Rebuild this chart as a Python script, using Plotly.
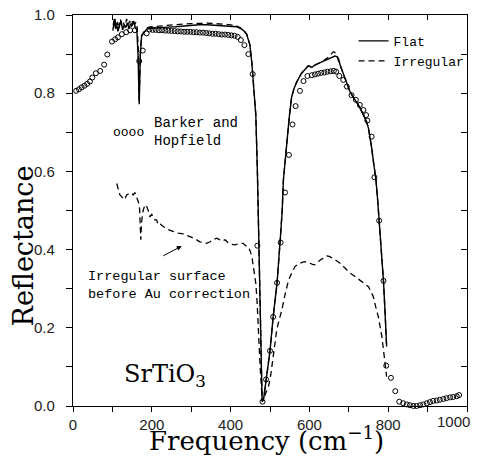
import plotly.graph_objects as go

# ---- data ----
flat_x = [101, 105, 108, 111, 114, 118, 122, 126, 130, 134, 138, 142, 146, 150, 154, 158, 162, 165, 168, 171, 174, 180, 187,
          200, 220, 240, 260, 280, 300, 320, 340, 360, 380, 400, 415, 424, 433, 441, 449, 454, 459, 464, 468, 471, 474, 477,
          480, 484, 490, 500, 508, 518, 527, 531, 534, 538, 542, 549, 555, 561, 568, 580, 590, 597, 606, 614, 623, 632, 640,
          650, 657, 665, 671, 675, 678, 684, 690, 697, 703, 710, 716, 724, 733, 740, 745, 750, 754, 758, 762, 766, 769, 773,
          777, 782, 788, 792, 796]
flat_y = [0.960, 0.985, 0.965, 0.975, 0.958, 0.972, 0.985, 0.962, 0.975, 0.968, 0.980, 0.965, 0.978, 0.972, 0.985, 0.968,
          0.962, 0.900, 0.772, 0.900, 0.945, 0.955, 0.964,
          0.966, 0.968, 0.969, 0.970, 0.972, 0.974, 0.975, 0.975, 0.974, 0.973, 0.972, 0.970, 0.966, 0.960, 0.950, 0.923,
          0.876, 0.810, 0.744, 0.600, 0.450, 0.300, 0.120,
          0.012, 0.020, 0.068, 0.141, 0.228, 0.315, 0.440, 0.500, 0.578, 0.625, 0.655, 0.740, 0.791, 0.812, 0.829, 0.851,
          0.862, 0.870, 0.866, 0.872, 0.876, 0.880, 0.885, 0.889, 0.892, 0.895, 0.893, 0.885, 0.872, 0.855, 0.838, 0.820,
          0.804, 0.792, 0.783, 0.770, 0.753, 0.740, 0.727, 0.710, 0.689, 0.660, 0.629, 0.600, 0.578, 0.530, 0.476, 0.400,
          0.320, 0.240, 0.152]

irr_x = [102, 106, 109, 113, 116, 120, 124, 128, 132, 136, 140, 144, 148, 152, 156, 160, 163, 166, 168, 171, 174, 180, 187,
         200, 220, 240, 260, 280, 300, 320, 340, 360, 380, 400, 415, 424, 433, 441, 449, 454, 459, 464, 468, 471, 474, 477,
         480, 484, 490, 500, 508, 518, 527, 531, 534, 538, 542, 549, 555, 561, 568, 580, 590, 597, 606, 614, 623, 631, 644,
         652, 657, 661, 665, 669, 673, 678, 684, 690, 697, 703, 710, 716, 724, 733, 740, 745, 750, 754, 758, 762, 766, 769,
         773, 777, 782, 788, 792, 796]
irr_y = [0.975, 0.995, 0.970, 0.982, 0.965, 0.990, 0.972, 0.980, 0.968, 0.990, 0.975, 0.985, 0.970, 0.988, 0.975, 0.982,
         0.968, 0.905, 0.780, 0.905, 0.948, 0.958, 0.967,
         0.970, 0.972, 0.974, 0.975, 0.977, 0.978, 0.979, 0.979, 0.978, 0.977, 0.975, 0.972, 0.968, 0.961, 0.951, 0.924,
         0.877, 0.810, 0.744, 0.600, 0.450, 0.300, 0.120,
         0.012, 0.020, 0.068, 0.141, 0.228, 0.315, 0.440, 0.500, 0.578, 0.625, 0.655, 0.740, 0.791, 0.812, 0.829, 0.851,
         0.862, 0.870, 0.868, 0.872, 0.878, 0.880, 0.889, 0.895, 0.902, 0.906, 0.904, 0.898, 0.885, 0.872, 0.855, 0.838,
         0.820, 0.804, 0.792, 0.783, 0.770, 0.753, 0.740, 0.727, 0.710, 0.689, 0.660, 0.629, 0.600, 0.578, 0.530, 0.476,
         0.400, 0.320, 0.240, 0.152]

raw_x = [111, 115, 119, 124, 128, 132, 136, 140, 145, 149, 153, 157, 162, 166, 169, 171, 172, 174, 178, 183, 187, 191, 195,
         200, 204, 208, 212, 217, 222, 229, 240, 255, 267, 280, 289, 300, 314, 322, 330, 339, 348, 357, 365, 372, 379, 386,
         393, 400, 411, 420, 432, 438, 445, 450, 454, 459, 464, 467, 470, 473, 475, 478, 481, 488, 496, 502, 507, 512, 517,
         523, 530, 536, 542, 546, 551, 557, 563, 570, 576, 583, 589, 595, 602, 608, 614, 620, 627, 636, 645, 652, 660, 668,
         678, 690, 703, 716, 728, 740, 750, 756, 762, 768, 775, 780, 784, 789, 793, 796]
raw_y = [0.569, 0.557, 0.540, 0.535, 0.528, 0.530, 0.540, 0.542, 0.545, 0.544, 0.540, 0.546, 0.530, 0.522, 0.505, 0.450,
         0.425, 0.470, 0.500, 0.515, 0.510, 0.500, 0.484, 0.490, 0.480, 0.476, 0.476, 0.462, 0.465, 0.459, 0.452, 0.446,
         0.442, 0.440, 0.437, 0.432, 0.425, 0.420, 0.418, 0.416, 0.420, 0.426, 0.429, 0.425, 0.422, 0.425, 0.418, 0.414,
         0.412, 0.415, 0.416, 0.410, 0.407, 0.395, 0.382, 0.348, 0.314, 0.270, 0.194, 0.140, 0.100, 0.050, 0.011, 0.030,
         0.049, 0.080, 0.118, 0.155, 0.194, 0.220, 0.245, 0.275, 0.305, 0.318, 0.331, 0.345, 0.356, 0.362, 0.365, 0.368,
         0.369, 0.368, 0.365, 0.362, 0.361, 0.366, 0.373, 0.379, 0.384, 0.382, 0.378, 0.372, 0.365, 0.352, 0.340, 0.331,
         0.322, 0.313, 0.305, 0.293, 0.280, 0.255, 0.228, 0.200, 0.177, 0.135, 0.100, 0.075]

bh_x = [8, 15, 22, 29, 36, 43, 49, 58, 69, 79, 87, 99, 107, 114, 124, 135, 145, 157, 168, 177, 187, 194,
        202, 210, 218, 226, 234, 242, 250, 258, 266, 274, 282, 290, 298, 306, 314, 322, 330, 338, 346, 354, 362, 370,
        378, 386, 394, 402, 410, 418, 426, 435, 445, 456, 468, 481, 490, 500, 508, 518, 527, 538, 548, 557, 565, 576,
        585, 595, 606, 614, 622, 630, 638, 646, 654, 662, 668, 676, 686, 695, 707, 718, 728, 737, 744, 747, 758, 765,
        777, 788, 795, 807, 818, 828, 838, 847, 855, 864, 872, 881, 889, 898, 906, 914, 923, 931, 940, 948, 957, 965,
        974, 980]
bh_y = [0.806, 0.810, 0.815, 0.819, 0.824, 0.830, 0.840, 0.851, 0.857, 0.873, 0.899, 0.932, 0.938, 0.943, 0.951, 0.956,
        0.961, 0.961, 0.882, 0.909, 0.953, 0.963,
        0.962, 0.962, 0.961, 0.961, 0.960, 0.960, 0.959, 0.959, 0.958, 0.958, 0.957, 0.957, 0.957, 0.956, 0.956, 0.955,
        0.955, 0.954, 0.953, 0.952, 0.952, 0.951, 0.950, 0.950, 0.949, 0.948, 0.947, 0.944, 0.936, 0.923, 0.900, 0.849,
        0.410, 0.011, 0.068, 0.141, 0.228, 0.315, 0.418, 0.546, 0.642, 0.720, 0.767, 0.806, 0.831, 0.844, 0.846, 0.848,
        0.850, 0.852, 0.853, 0.855, 0.856, 0.857, 0.855, 0.844, 0.834, 0.817, 0.795, 0.783, 0.770, 0.757, 0.744, 0.730,
        0.689, 0.585, 0.474, 0.320, 0.103, 0.072, 0.038, 0.011, 0.007, 0.004, 0.002, 0.000, 0.000, 0.002, 0.004, 0.007,
        0.010, 0.013, 0.014, 0.016, 0.018, 0.020, 0.022, 0.023, 0.025, 0.028]

x_ticks = [0, 200, 400, 600, 800, 1000]
x_ticktext = ["0", "200", "400", "600", "800", ""]   # last label drawn separately so it stays inside the page
x_last_label = "1000"
y_ticks = [0.0, 0.2, 0.4, 0.6, 0.8, 1.0]
y_ticktext = ["0.0", "0.2", "0.4", "0.6", "0.8", "1.0"]

MONO = "Liberation Mono"
SERIF = "DejaVu Serif"
SANS = "Liberation Sans"

fig = go.Figure()
fig.add_trace(go.Scatter(x=raw_x, y=raw_y, mode="lines", showlegend=False,
                         line=dict(color="black", width=1.3, dash="6px,4px")))
fig.add_trace(go.Scatter(x=bh_x, y=bh_y, mode="markers", showlegend=False, cliponaxis=False,
                         marker=dict(symbol="circle-open", size=5, color="black", line=dict(width=1))))
fig.add_trace(go.Scatter(x=irr_x, y=irr_y, mode="lines", name="Irregular",
                         line=dict(color="black", width=1.3, dash="6px,4px")))
fig.add_trace(go.Scatter(x=flat_x, y=flat_y, mode="lines", name="Flat",
                         line=dict(color="black", width=1.4)))

fig.update_layout(
    width=476, height=450,
    margin=dict(l=65, r=17, t=7, b=52),
    paper_bgcolor="white", plot_bgcolor="white",
    font=dict(family=SANS, color="black"),
    legend=dict(x=0.712, y=0.972, xanchor="left", yanchor="top", traceorder="reversed",
                font=dict(family=MONO, size=13, color="black"), bgcolor="rgba(0,0,0,0)",
                itemwidth=30, tracegroupgap=0),
    xaxis=dict(range=[0, 1000], tickvals=x_ticks, ticktext=x_ticktext, ticks="outside", ticklen=5,
               tickwidth=1, tickcolor="black", showline=True, linecolor="black", linewidth=1.2, mirror=True,
               showgrid=False, zeroline=False, automargin=False, ticklabeloverflow="allow",
               minor=dict(dtick=100, ticks="outside", ticklen=5, tickcolor="black"),
               tickfont=dict(family=SANS, size=15, color="#222")),
    yaxis=dict(range=[0, 1.0], tickvals=y_ticks, ticktext=y_ticktext, ticks="outside", ticklen=6,
               tickwidth=1, tickcolor="black", showline=True, linecolor="black", linewidth=1.2,
               mirror=True, showgrid=False, zeroline=False, automargin=False, ticklabelstandoff=8,
               ticklabeloverflow="allow",
               minor=dict(dtick=0.1, ticks="outside", ticklen=6, tickcolor="black"),
               tickfont=dict(family=SANS, size=15, color="#222")),
    xaxis2=dict(overlaying="x", side="top", range=[0, 1000], tickvals=x_ticks, ticks="inside",
                ticklen=5, tickcolor="black", showticklabels=False, showgrid=False, zeroline=False,
                automargin=False, showline=True, linecolor="black", linewidth=1.2,
                minor=dict(dtick=100, ticks="inside", ticklen=5, tickcolor="black")),
    yaxis2=dict(overlaying="y", side="right", range=[0, 1.0], tickvals=y_ticks, ticks="inside",
                ticklen=6, tickcolor="black", showticklabels=False, showgrid=False, zeroline=False,
                automargin=False, showline=True, linecolor="black", linewidth=1.2,
                minor=dict(dtick=0.1, ticks="inside", ticklen=6, tickcolor="black")),
)
# invisible trace to activate secondary axes
fig.add_trace(go.Scatter(x=[None], y=[None], xaxis="x2", yaxis="y2", showlegend=False, hoverinfo="skip"))

# last x tick label, right-aligned so it is not cut off at the page edge
fig.add_annotation(x=x_ticks[-1], y=0, xref="x", yref="paper", text=x_last_label, showarrow=False,
                   xanchor="right", yanchor="top", xshift=5, yshift=-5,
                   font=dict(family=SANS, size=15, color="#222"))

# axis titles
fig.add_annotation(x=0.49, y=-0.085, xref="paper", yref="paper", text="Frequency (cm<sup>−1</sup>)",
                   showarrow=False, xanchor="center", yanchor="middle",
                   font=dict(family=SERIF, size=26, color="black"))
fig.add_annotation(x=-0.125, y=0.41, xref="paper", yref="paper", text="Reflectance", textangle=-90,
                   showarrow=False, xanchor="center", yanchor="middle",
                   font=dict(family=SERIF, size=27, color="black"))

fig.add_annotation(x=200, y=0.702, xref="x", yref="y", text="Barker and<br>Hopfield", showarrow=False,
                   xanchor="left", yanchor="middle", align="left",
                   font=dict(family=MONO, size=14, color="black"))
fig.add_annotation(x=142, y=0.700, xref="x", yref="y", text="oooo", showarrow=False,
                   xanchor="center", yanchor="middle",
                   font=dict(family=MONO, size=13, color="black"))
fig.add_annotation(x=33, y=0.309, xref="x", yref="y", text="Irregular surface<br>before Au correction",
                   showarrow=False, xanchor="left", yanchor="middle", align="left",
                   font=dict(family=MONO, size=13.5, color="black"))
fig.add_annotation(x=276, y=0.409, ax=225, ay=0.382, xref="x", yref="y", axref="x", ayref="y",
                   text="", showarrow=True, arrowhead=2, arrowsize=1, arrowwidth=1, arrowcolor="black")
fig.add_annotation(x=124, y=0.077, xref="x", yref="y", text="SrTiO<sub>3</sub>", showarrow=False,
                   xanchor="left", yanchor="middle",
                   font=dict(family=SERIF, size=24, color="black"))

fig.write_html("out.html")
